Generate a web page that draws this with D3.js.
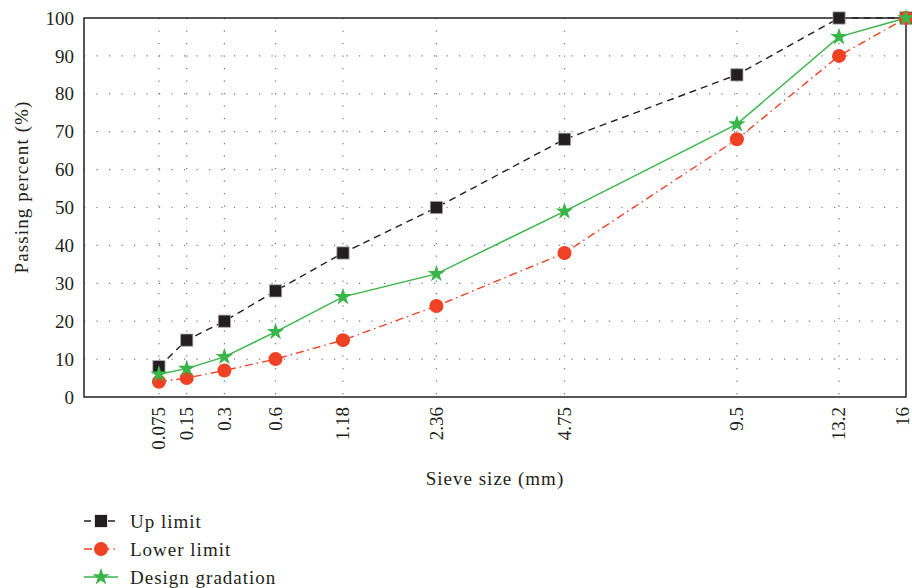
<!DOCTYPE html>
<html><head><meta charset="utf-8">
<script src="https://cdn.jsdelivr.net/npm/d3@7"></script>
<style>body{margin:0;background:#fff}svg text{font-family:"Liberation Serif","DejaVu Serif",serif;fill:#231f20}</style>
</head><body><svg id="c" width="912" height="588"></svg>
<script>
const sieves = [0.075, 0.15, 0.3, 0.6, 1.18, 2.36, 4.75, 9.5, 13.2, 16];
const sieveLabels = ["0.075","0.15","0.3","0.6","1.18","2.36","4.75","9.5","13.2","16"];
const upLimit = [8, 15, 20, 28, 38, 50, 68, 85, 100, 100];
const lowerLimit = [4, 5, 7, 10, 15, 24, 38, 68, 90, 100];
const design = [6, 7.5, 10.6, 17.2, 26.4, 32.5, 49, 72, 95, 100];
const yTicks = [0,10,20,30,40,50,60,70,80,90,100];
const seriesNames = ["Up limit","Lower limit","Design gradation"];

const svg = d3.select("#c");
const W = 912;
const L = 84, T = 18, R = 906, B = 397;
const x = d3.scalePow().exponent(0.44).domain([0,16]).range([81, 906]);
const y = d3.scaleLinear().domain([0,100]).range([B, T]);

// grid
const g = svg.append("g");
g.selectAll("line.h").data(yTicks.filter(v=>v>0&&v<100)).join("line")
  .attr("x1",L).attr("x2",R).attr("y1",d=>y(d)).attr("y2",d=>y(d))
  .attr("stroke","#777").attr("stroke-width",1.2).attr("stroke-dasharray","1.2,11.3");
g.selectAll("line.v").data(sieves.slice(0,-1)).join("line")
  .attr("x1",d=>x(d)).attr("x2",d=>x(d)).attr("y1",T).attr("y2",B)
  .attr("stroke","#777").attr("stroke-width",1.2).attr("stroke-dasharray","1.2,11.3");

// frame
svg.append("rect").attr("x",L).attr("y",T).attr("width",R-L).attr("height",B-T)
  .attr("fill","none").attr("stroke","#231f20").attr("stroke-width",1.5);

// y axis labels
svg.selectAll("text.yt").data(yTicks).join("text")
  .attr("x",L-10).attr("y",d=>y(d)).attr("dy","0.35em").attr("text-anchor","end")
  .attr("font-size",19).text(d=>d);

// x tick labels
svg.selectAll("text.xt").data(sieves).join("text")
  .attr("transform",(d)=>`translate(${Math.min(x(d), W-9)},${B+10}) rotate(-90)`)
  .attr("dy","0.33em").attr("text-anchor","end").attr("font-size",19)
  .text((d,i)=>sieveLabels[i]);

svg.append("text").attr("x",495).attr("y",485).attr("text-anchor","middle")
  .attr("font-size",19).attr("letter-spacing","1px").text("Sieve size (mm)");
svg.append("text").attr("transform",`translate(28,187) rotate(-90)`)
  .attr("text-anchor","middle").attr("font-size",19).attr("letter-spacing","1.1px").text("Passing percent (%)");

const colors = ["#231f20","#ef4123","#39b54a"];
const dashes = ["7,5","8,4,1.5,4",null];
const symbols = [d3.symbolSquare, d3.symbolCircle, d3.symbolStar];
const sizes = [150, 155, 95];
const data = [upLimit, lowerLimit, design];

const line = d3.line().x((d,i)=>x(sieves[i])).y(d=>y(d));
data.forEach((vals,k)=>{
  svg.append("path").datum(vals).attr("d",line).attr("fill","none")
    .attr("stroke",colors[k]).attr("stroke-width",1.4)
    .attr("stroke-dasharray",dashes[k]);
});
data.forEach((vals,k)=>{
  svg.selectAll(null).data(vals).join("path")
    .attr("transform",(d,i)=>`translate(${x(sieves[i])},${y(d)})`)
    .attr("d",d3.symbol(symbols[k],sizes[k])())
    .attr("fill",colors[k])
    .attr("stroke",k===0?"#aaa":"none").attr("stroke-width",0.8);
});

// legend
const lg = svg.append("g");
seriesNames.forEach((name,k)=>{
  const cy = 521 + k*28;
  lg.append("line").attr("x1",84).attr("x2",118).attr("y1",cy).attr("y2",cy)
    .attr("stroke",colors[k]).attr("stroke-width",1.4).attr("stroke-dasharray",dashes[k]);
  lg.append("path").attr("transform",`translate(101,${cy})`)
    .attr("d",d3.symbol(symbols[k],sizes[k])()).attr("fill",colors[k]);
  lg.append("text").attr("x",130).attr("y",cy).attr("dy","0.35em")
    .attr("font-size",19).attr("letter-spacing","1px").text(name);
});
</script></body></html>
